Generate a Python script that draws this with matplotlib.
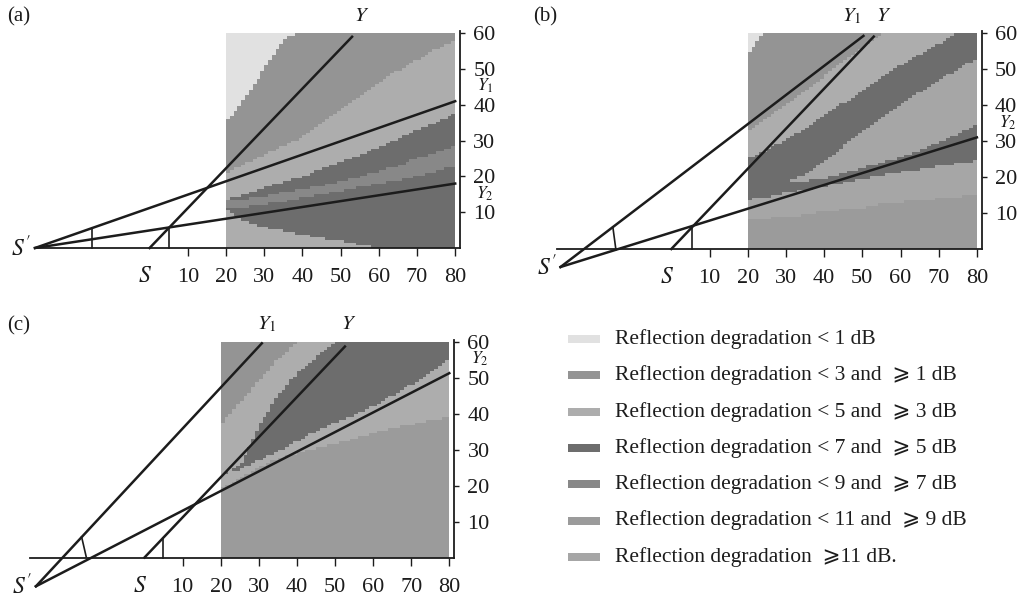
import numpy as np
import matplotlib
matplotlib.use('Agg')
import matplotlib.pyplot as plt
from matplotlib.colors import ListedColormap
from matplotlib.patches import Rectangle

plt.rcParams['font.family'] = ['Liberation Serif', 'DejaVu Serif', 'DejaVu Sans']
plt.rcParams['mathtext.fontset'] = 'stix'

# degradation classes, in legend order
class_labels = [
    'Reflection degradation < 1 dB',
    'Reflection degradation < 3 and  \u2a7e 1 dB',
    'Reflection degradation < 5 and  \u2a7e 3 dB',
    'Reflection degradation < 7 and  \u2a7e 5 dB',
    'Reflection degradation < 9 and  \u2a7e 7 dB',
    'Reflection degradation < 11 and  \u2a7e 9 dB',
    'Reflection degradation  \u2a7e11 dB.',
]
class_colors = ['#e1e1e1', '#949494', '#adadad', '#6d6d6d', '#888888', '#9b9b9b', '#a6a6a6']

# range positions where the zone boundaries were read
xs = [20, 25, 30, 35, 40, 45, 50, 55, 60, 65, 70, 75, 80]

# panel (a): zone classes from the bottom up, boundaries between them
classes_a = [2, 3, 4, 3, 2, 1, 0]
bounds_a = [
    [11, 7.5, 5.8, 4.8, 3.8, 2.8, 2.0, 1.0, 0, 0, 0, 0, 0],
    [11, 11.5, 12.2, 13, 14, 15, 16, 17, 18, 19, 20, 21.5, 23],
    [13.5, 13.8, 14.5, 15.5, 16.5, 17.5, 18.5, 20, 21.5, 23, 25, 26.5, 28.5],
    [13.5, 15, 17, 18.5, 20, 22, 24, 26, 28, 30.5, 33, 35, 37.5],
    [21, 23.5, 26, 28.5, 31, 35, 38.5, 42.5, 46, 49.5, 52.5, 55.5, 58],
    [35, 42, 50, 58, 61, 61, 61, 61, 61, 61, 61, 61, 61],
]

# panel (b)
classes_b = [5, 6, 3, 6, 3, 2, 1, 0]
bounds_b = [
    [8, 8.5, 9, 9.5, 10.5, 11, 11.5, 12.5, 13, 13.5, 14, 14.5, 15],
    [13.8, 14.5, 15.5, 16.5, 17.5, 18.3, 19.5, 20.5, 21.3, 22.2, 23, 23.8, 24.5],
    [18, 18.5, 18.8, 19, 19.5, 21, 22.5, 24, 25.5, 27.5, 29.5, 32, 34.5],
    [18, 18.5, 18.8, 20.5, 24.5, 28.5, 32.5, 36.5, 40, 43.5, 47, 50, 53],
    [25, 27.5, 30.5, 33.5, 37, 40.5, 44, 47.5, 51, 54, 57, 60, 61],
    [33, 36.5, 40, 44, 48, 52, 56, 60, 61, 61, 61, 61, 61],
    [54, 61, 61, 61, 61, 61, 61, 61, 61, 61, 61, 61, 61],
]

# panel (c)
classes_c = [5, 2, 3, 2, 1]
bounds_c = [
    [19, 22, 25, 27.5, 29, 30.5, 31.5, 33, 34.5, 36, 37, 38, 39],
    [23, 24.5, 27, 29.5, 32.3, 35, 37.5, 39.5, 42, 45, 48, 51.5, 55.5],
    [23, 25.5, 36.5, 45, 51, 55.5, 59.5, 61, 61, 61, 61, 61, 61],
    [37, 43, 49, 55, 59.5, 61, 61, 61, 61, 61, 61, 61, 61],
]

# image source S', real source S and the far ends of the rays
s_prime = {'a': (-30, 0), 'b': (-29, -5), 'c': (-28.5, -8)}
s_real = (0, 0)
y_end = {'a': (53, 59), 'b': (53, 59), 'c': (52.6, 58.6)}
y1_end = {'a': (80, 41), 'b': (50.3, 59.2), 'c': (30.8, 59.5)}
y2_end = {'a': (80, 18), 'b': (80, 31), 'c': (80, 51.2)}

# short construction strokes near the sources
marks = {
    'a': [([-15.2, -15.2], [0, 5.6]), ([5.1, 5.1], [0, 5.7])],
    'b': [([-15.3, -14.5], [6.1, -0.2]), ([5.3, 5.3], [0, 5.9])],
    'c': [([-16.5, -15.3], [5.7, 0.2]), ([4.9, 4.9], [0, 5.5])],
}

W, H = 1032, 598
fig = plt.figure(figsize=(W / 100, H / 100), dpi=100)
cmap = ListedColormap(class_colors)
XLIM, YLIM = (-34, 84), (-12, 64)
FS = 16
ink = '#1c1c1c'


def add_panel(x20px, ppx, y0px, ppy):
    left = x20px + (XLIM[0] - 20) * ppx
    right = x20px + (XLIM[1] - 20) * ppx
    top = y0px - YLIM[1] * ppy
    bot = y0px - YLIM[0] * ppy
    return fig.add_axes([left / W, 1 - bot / H, (right - left) / W, (bot - top) / H])


def draw_panel(ax, key, classes, bounds, top_labels, side_labels):
    xe = np.arange(20, 81)
    ye = np.linspace(0, 60, 81)
    xc = (xe[:-1] + xe[1:]) / 2
    yc = (ye[:-1] + ye[1:]) / 2
    levels = np.array([np.interp(xc, xs, b) for b in bounds])
    idx = (yc[None, :, None] >= levels[:, None, :]).sum(axis=0)
    codes = np.array(classes)[idx]
    ax.pcolormesh(xe, ye, codes, cmap=cmap, vmin=-0.5, vmax=6.5, zorder=1)

    sp = s_prime[key]
    for end in (y1_end[key], y2_end[key]):
        ax.plot([sp[0], end[0]], [sp[1], end[1]], color=ink, lw=1.8, zorder=3)
    ax.plot([s_real[0], y_end[key][0]], [s_real[1], y_end[key][1]], color=ink, lw=1.8, zorder=3)
    for mx, my in marks[key]:
        ax.plot(mx, my, color=ink, lw=1.2, zorder=3)

    ax.set_xlim(*XLIM)
    ax.set_ylim(*YLIM)
    ax.patch.set_alpha(0)
    ax.spines[['left', 'top']].set_visible(False)
    ax.spines['bottom'].set_position(('data', 0))
    ax.spines['bottom'].set_bounds(-30, 81.3)
    ax.spines['right'].set_position(('data', 81.3))
    ax.spines['right'].set_bounds(0, 60.5)
    for s in ('bottom', 'right'):
        ax.spines[s].set_linewidth(1.3)
        ax.spines[s].set_color(ink)
        ax.spines[s].set_zorder(4)
    ax.yaxis.tick_right()
    ax.set_xticks(range(10, 81, 10))
    ax.set_yticks(range(10, 61, 10))
    ax.tick_params(axis='x', length=5.5, width=1.0, pad=9, labelsize=FS, colors=ink)
    ax.tick_params(axis='y', length=3.5, width=1.0, pad=6, labelsize=FS, colors=ink)

    ax.text(sp[0] - 1, sp[1], r"$S'$", fontsize=FS + 1, ha='right', va='center', color=ink)
    ax.text(-1.2, -8, r'$S$', fontsize=FS + 1, ha='center', va='center', color=ink)
    for txt, (tx, ty) in top_labels:
        ax.text(tx, ty, txt, fontsize=FS - 1, ha='center', va='center', color=ink)
    # ray names squeezed between the right-hand tick labels
    for txt, (tx, ty) in side_labels:
        ax.text(tx, ty, txt, fontsize=12.5, ha='center', va='center', color=ink)


ax_a = add_panel(226, 3.82, 248, 3.58)
draw_panel(ax_a, 'a', classes_a, bounds_a,
           [(r'$Y$', (55.5, 64.6))],
           [(r'$Y_1$', (87.8, 45.2)), (r'$Y_2$', (87.8, 15.2))])

ax_b = add_panel(747.7, 3.82, 249, 3.6)
draw_panel(ax_b, 'b', classes_b, bounds_b,
           [(r'$Y_1$', (47.2, 64.5)), (r'$Y$', (55.5, 64.5))],
           [(r'$Y_2$', (88, 35.0))])

ax_c = add_panel(220.7, 3.81, 557.5, 3.6)
draw_panel(ax_c, 'c', classes_c, bounds_c,
           [(r'$Y_1$', (32.1, 64.6)), (r'$Y$', (53.5, 64.6))],
           [(r'$Y_2$', (88, 55.2))])

fig.text(7 / W, 1 - 17 / H, '(a)', fontsize=FS - 1, ha='left', va='center', color=ink)
fig.text(533 / W, 1 - 17 / H, '(b)', fontsize=FS - 1, ha='left', va='center', color=ink)
fig.text(7 / W, 1 - 326 / H, '(c)', fontsize=FS - 1, ha='left', va='center', color=ink)

# legend drawn in figure pixel space
leg = fig.add_axes([0, 0, 1, 1])
leg.set_xlim(0, W)
leg.set_ylim(H, 0)
leg.axis('off')
leg.patch.set_alpha(0)
for i, (lab, col) in enumerate(zip(class_labels, class_colors)):
    yy = 339 + i * 36.3
    leg.add_patch(Rectangle((568, yy - 4), 32, 8, color=col, lw=0))
    leg.text(615, yy, lab, fontsize=15.5, ha='left', va='center', color=ink)

fig.savefig('out.png', dpi=100)
